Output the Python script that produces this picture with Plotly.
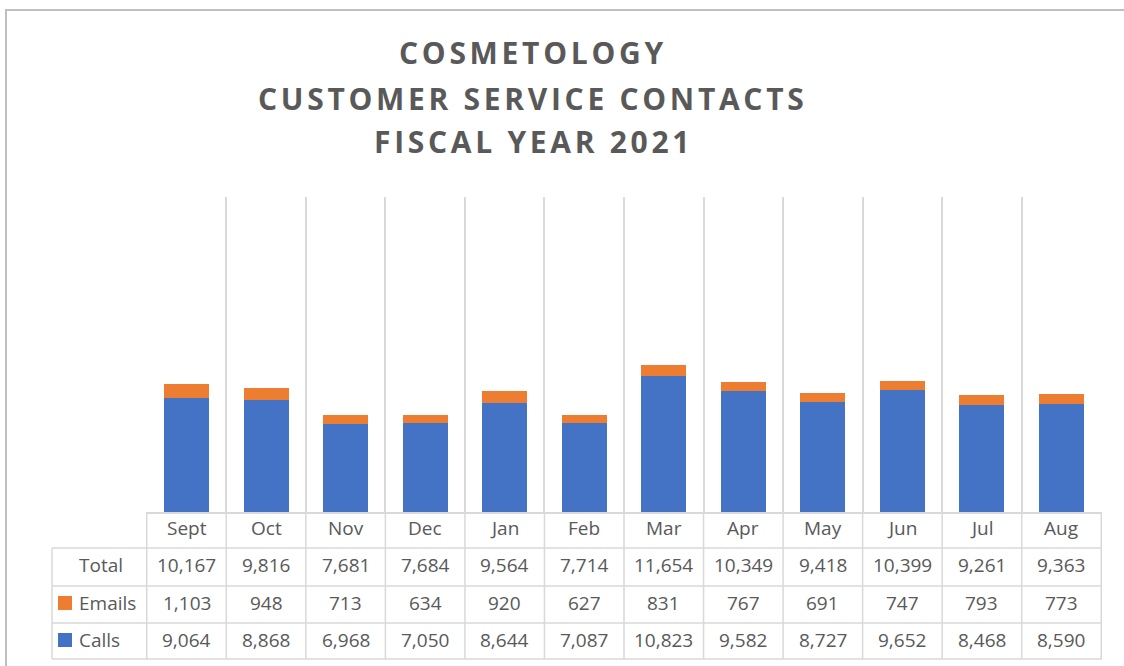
import plotly.graph_objects as go

months = ["Sept", "Oct", "Nov", "Dec", "Jan", "Feb", "Mar", "Apr", "May", "Jun", "Jul", "Aug"]
calls = [9064, 8868, 6968, 7050, 8644, 7087, 10823, 9582, 8727, 9652, 8468, 8590]
emails = [1103, 948, 713, 634, 920, 627, 831, 767, 691, 747, 793, 773]
totals = [10167, 9816, 7681, 7684, 9564, 7714, 11654, 10349, 9418, 10399, 9261, 9363]
title_lines = ["COSMETOLOGY", "CUSTOMER SERVICE CONTACTS", "FISCAL YEAR 2021"]

W, H = 1124, 666
BLUE = "#4472C4"
ORANGE = "#ED7D31"
TXT = "#595959"
GRID = "#D9D9D9"
FONT = "Open Sans"


def px(x):
    return x / W


def py(y):
    return 1 - y / H


fig = go.Figure()
fig.add_trace(go.Bar(x=months, y=calls, name="Calls", marker=dict(color=BLUE, line=dict(width=0))))
fig.add_trace(go.Bar(x=months, y=emails, name="Emails", marker=dict(color=ORANGE, line=dict(width=0))))

annotations = []
# title
for line, yc in zip(title_lines, [52, 98, 141]):
    annotations.append(dict(
        text=f'<span style="letter-spacing:3.7px">{line}</span>', xref="paper", yref="paper",
        x=px(533), y=py(yc), xanchor="center", yanchor="middle", showarrow=False,
        font=dict(family=FONT, size=30, color=TXT, weight="bold")))

# month header row of the data table
for m in months:
    annotations.append(dict(
        text=m, xref="x", yref="paper", x=m, y=py(528),
        xanchor="center", yanchor="middle", showarrow=False,
        font=dict(family=FONT, size=19, color=TXT)))

# data table rows
rows = [("Total", totals, 565), ("Emails", emails, 603), ("Calls", calls, 640)]
for label, vals, yc in rows:
    annotations.append(dict(
        text=label, xref="paper", yref="paper", x=px(77), y=py(yc),
        xanchor="left", yanchor="middle", showarrow=False,
        font=dict(family=FONT, size=19, color=TXT)))
    for m, v in zip(months, vals):
        annotations.append(dict(
            text=f"{v:,}", xref="x", yref="paper", x=m, y=py(yc),
            xanchor="center", yanchor="middle", showarrow=False,
            font=dict(family=FONT, size=19, color=TXT)))

shapes = []
# chart border
shapes.append(dict(type="rect", xref="paper", yref="paper", x0=px(6), x1=px(1140), y0=py(10), y1=py(690),
                   line=dict(color="#BFBFBF", width=2), fillcolor="rgba(0,0,0,0)", layer="below"))
# table horizontal lines
for yl in [548, 586, 623, 659]:
    shapes.append(dict(type="line", xref="paper", yref="paper", x0=px(52), x1=px(1102), y0=py(yl), y1=py(yl),
                       line=dict(color=GRID, width=1.5)))
shapes.append(dict(type="line", xref="paper", yref="paper", x0=px(52), x1=px(52), y0=py(548), y1=py(659),
                   line=dict(color=GRID, width=1.5)))
# table vertical lines at category boundaries
for i in range(len(months) + 1):
    shapes.append(dict(type="line", xref="x", yref="paper", x0=i - 0.5, x1=i - 0.5, y0=py(512), y1=py(659),
                       line=dict(color=GRID, width=1.5)))
# legend keys
for color, yc in [(ORANGE, 603), (BLUE, 640)]:
    shapes.append(dict(type="rect", xref="paper", yref="paper", x0=px(58), x1=px(72), y0=py(yc - 7), y1=py(yc + 7),
                       line=dict(width=0), fillcolor=color))

fig.update_layout(
    width=W, height=H,
    margin=dict(l=0, r=0, t=0, b=0),
    paper_bgcolor="white", plot_bgcolor="white",
    barmode="stack", bargap=0.435,
    showlegend=False,
    annotations=annotations,
    shapes=shapes,
    xaxis=dict(domain=[px(146), px(1102)], type="category", tickson="boundaries", showgrid=True,
               gridcolor=GRID, gridwidth=1.5, showline=True, linecolor=GRID, linewidth=1.5,
               ticks="", showticklabels=False, zeroline=False),
    yaxis=dict(domain=[py(512), py(197)], range=[0, 25000], visible=False, showgrid=False, zeroline=False),
)

fig.write_html("out.html", config={"displayModeBar": False},
               post_script="document.body.style.margin='0';document.body.style.overflow='hidden';")
